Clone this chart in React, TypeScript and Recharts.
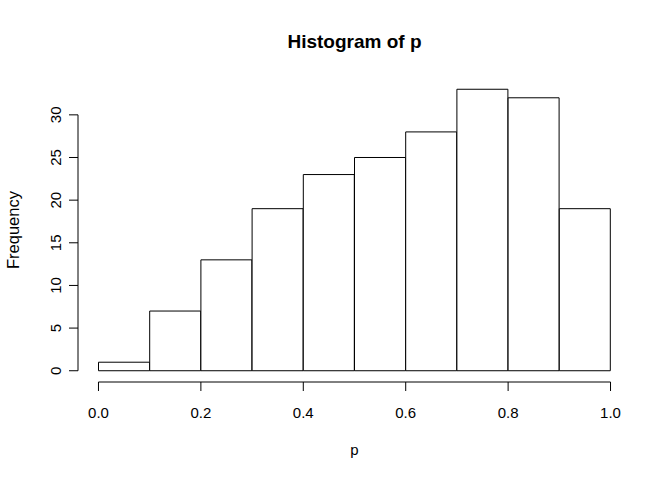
import { BarChart, Bar, XAxis, YAxis, ReferenceLine, Customized } from 'recharts'

const bins = ['0.0-0.1', '0.1-0.2', '0.2-0.3', '0.3-0.4', '0.4-0.5', '0.5-0.6', '0.6-0.7', '0.7-0.8', '0.8-0.9', '0.9-1.0']
const binMids = [0.05, 0.15, 0.25, 0.35, 0.45, 0.55, 0.65, 0.75, 0.85, 0.95]
const counts = [1, 7, 13, 19, 23, 25, 28, 33, 32, 19]
const xTicks = [0, 0.2, 0.4, 0.6, 0.8, 1]
const yTicks = [0, 5, 10, 15, 20, 25, 30]

const data = bins.map((bin, i) => ({ bin, mid: binMids[i], count: counts[i] }))

const FONT = '"Liberation Sans", Arial, Helvetica, sans-serif'

function XTick({ x, y, payload }: any) {
  return (
    <text x={x} y={y + 24.5} textAnchor="middle" fontSize={15} fill="#000" fontFamily={FONT}>
      {Number(payload.value).toFixed(1)}
    </text>
  )
}

function YTick({ x, y, payload }: any) {
  const tx = x - 5.5
  return (
    <text x={tx} y={y} transform={`rotate(-90, ${tx}, ${y})`} textAnchor="middle" fontSize={15} fill="#000" fontFamily={FONT}>
      {payload.value}
    </text>
  )
}

function Titles() {
  return (
    <g fontFamily={FONT} fill="#000">
      <text x={354.5} y={48} textAnchor="middle" fontSize={19} fontWeight="bold">Histogram of p</text>
      <text x={354.5} y={455} textAnchor="middle" fontSize={15}>p</text>
      <text x={18.5} y={230} transform="rotate(-90, 18.5, 230)" textAnchor="middle" fontSize={16.5}>Frequency</text>
    </g>
  )
}

export default function App() {
  return (
    <div style={{ position: 'absolute', left: 0, top: 0, background: '#fff' }}>
      <BarChart
        width={672}
        height={480}
        data={data}
        margin={{ top: 78, right: 41, left: 0, bottom: 0 }}
        barCategoryGap={0}
        barGap={0}
      >
        <XAxis
          xAxisId="p"
          type="number"
          dataKey="mid"
          domain={[-0.04, 1.04]}
          ticks={xTicks}
          allowDataOverflow
          axisLine={false}
          tickLine={{ stroke: '#000' }}
          tickSize={9}
          tickMargin={2}
          height={98}
          tick={<XTick />}
          interval={0}
        />
        <XAxis xAxisId="bin" dataKey="bin" hide height={0} padding={{ left: 20.5, right: 20.5 }} />
        <YAxis
          type="number"
          domain={[-1.32, 34.32]}
          ticks={yTicks}
          allowDataOverflow
          axisLine={false}
          tickLine={{ stroke: '#000' }}
          tickSize={9}
          tickMargin={2}
          width={78}
          tick={<YTick />}
          interval={0}
        />
        <Bar
          xAxisId="bin"
          dataKey="count"
          fill="#fff"
          stroke="#000"
          strokeWidth={1}
          isAnimationActive={false}
        />
        <ReferenceLine
          xAxisId="p"
          segment={[{ x: 0, y: -1.32 }, { x: 1, y: -1.32 }]}
          stroke="#000"
          ifOverflow="visible"
        />
        <ReferenceLine
          xAxisId="p"
          segment={[{ x: -0.04, y: 0 }, { x: -0.04, y: 30 }]}
          stroke="#000"
          ifOverflow="visible"
        />
        <Customized component={<Titles />} />
      </BarChart>
    </div>
  )
}
